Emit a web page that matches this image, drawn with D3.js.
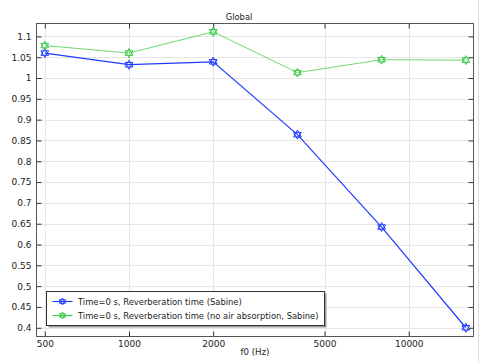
<!DOCTYPE html>
<html>
<head>
<meta charset="utf-8">
<script src="https://cdn.jsdelivr.net/npm/d3@7"></script>
<style>
  body { margin: 0; background: #fff; }
  text { font-family: "DejaVu Sans", sans-serif; fill: #222; }
</style>
</head>
<body>
<script>
// frequencies (Hz) and reverberation times (s)
var freqs = [500, 1000, 2000, 4000, 8000, 16000];
var sabine = [1.060, 1.032, 1.039, 0.864, 0.642, 0.400];
var sabineNoAir = [1.078, 1.060, 1.111, 1.013, 1.044, 1.043];
var xTicks = [500, 1000, 2000, 5000, 10000];
var yTicks = [0.4, 0.45, 0.5, 0.55, 0.6, 0.65, 0.7, 0.75, 0.8, 0.85, 0.9, 0.95, 1, 1.05, 1.1];
var seriesNames = ["Time=0 s, Reverberation time (Sabine)",
                   "Time=0 s, Reverberation time (no air absorption, Sabine)"];
var colors = ["#1f3cff", "#3fc94a"];

var width = 482, height = 363;
var plotL = 36.5, plotR = 473.5, plotT = 23.5, plotB = 336.5;

var svg = d3.select("body").append("svg")
    .attr("width", width)
    .attr("height", height);

var x = d3.scaleLog().domain([467, 17040]).range([plotL, plotR]);
var y = d3.scaleLinear().domain([0.379, 1.131]).range([plotB, plotT]);

// window edge line
svg.append("line")
    .attr("x1", 478.5).attr("x2", 478.5).attr("y1", 0).attr("y2", height)
    .attr("stroke", "#ddd");

// grid
svg.append("g").selectAll("line").data(xTicks).enter().append("line")
    .attr("x1", function(d) { return Math.round(x(d)) + 0.5; })
    .attr("x2", function(d) { return Math.round(x(d)) + 0.5; })
    .attr("y1", plotT).attr("y2", plotB)
    .attr("stroke", "#e6e6e6");
svg.append("g").selectAll("line").data(yTicks).enter().append("line")
    .attr("y1", function(d) { return Math.round(y(d)) + 0.5; })
    .attr("y2", function(d) { return Math.round(y(d)) + 0.5; })
    .attr("x1", plotL).attr("x2", plotR)
    .attr("stroke", "#e6e6e6");

// axes, ticks pointing inward
var fmt = function(d) { return String(d); };
svg.append("g").attr("transform", "translate(0," + plotB + ")")
    .call(d3.axisBottom(x).tickValues(xTicks).tickFormat(fmt).tickSizeInner(-5).tickSizeOuter(0).tickPadding(4))
    .call(function(g) { g.select(".domain").remove(); });
svg.append("g").attr("transform", "translate(0," + plotT + ")")
    .call(d3.axisTop(x).tickValues(xTicks).tickFormat("").tickSizeInner(-5).tickSizeOuter(0))
    .call(function(g) { g.select(".domain").remove(); });
svg.append("g").attr("transform", "translate(" + plotL + ",0)")
    .call(d3.axisLeft(y).tickValues(yTicks).tickFormat(fmt).tickSizeInner(-5).tickSizeOuter(0).tickPadding(5))
    .call(function(g) { g.select(".domain").remove(); });
svg.append("g").attr("transform", "translate(" + plotR + ",0)")
    .call(d3.axisRight(y).tickValues(yTicks).tickFormat("").tickSizeInner(-5).tickSizeOuter(0))
    .call(function(g) { g.select(".domain").remove(); });
svg.selectAll(".tick line").attr("stroke", "#333");
svg.selectAll(".tick text").style("font-size", "9px").attr("fill", "#222")
    .style("font-family", "DejaVu Sans, sans-serif");

svg.append("rect")
    .attr("x", plotL).attr("y", plotT)
    .attr("width", plotR - plotL).attr("height", plotB - plotT)
    .attr("fill", "none").attr("stroke", "#555");

// hexagram marker
var star = function(cx, cy, r) {
    var tri = function(off) {
        return d3.range(3).map(function(i) {
            var a = off + i * 2 * Math.PI / 3;
            return [cx + r * Math.sin(a), cy - r * Math.cos(a)];
        });
    };
    var l = d3.line();
    return l(tri(0)) + "Z" + l(tri(Math.PI)) + "Z";
};

var line = d3.line()
    .x(function(d) { return x(d[0]); })
    .y(function(d) { return y(d[1]); });

[sabine, sabineNoAir].forEach(function(vals, i) {
    var pts = freqs.map(function(f, j) { return [f, vals[j]]; });
    svg.append("path").datum(pts)
        .attr("d", line)
        .attr("fill", "none")
        .attr("stroke", colors[i])
        .attr("stroke-width", i === 0 ? 1.2 : 1)
        .attr("opacity", i === 0 ? 1 : 0.75);
    svg.append("g").selectAll("path").data(pts).enter().append("path")
        .attr("d", function(d) { return star(x(d[0]), y(d[1]), 4.5); })
        .attr("fill", "none")
        .attr("stroke", colors[i])
        .attr("stroke-width", 1);
});

// title and axis label
svg.append("text").attr("x", 239).attr("y", 19.5)
    .attr("text-anchor", "middle").style("font-size", "8.4px").text("Global");
svg.append("text").attr("x", (plotL + plotR) / 2).attr("y", 355)
    .attr("text-anchor", "middle").style("font-size", "8.6px").text("f0 (Hz)");

// legend
var lg = svg.append("g").attr("transform", "translate(46.5,291.5)");
lg.append("rect").attr("x", 2).attr("y", 2).attr("width", 278).attr("height", 34)
    .attr("fill", "#999");
lg.append("rect").attr("width", 278).attr("height", 34)
    .attr("fill", "#fff").attr("stroke", "#333");
seriesNames.forEach(function(name, i) {
    var yy = 10 + i * 14;
    lg.append("line").attr("x1", 6).attr("x2", 26).attr("y1", yy).attr("y2", yy)
        .attr("stroke", colors[i]).attr("stroke-width", 1.2);
    lg.append("path").attr("d", star(16, yy, 3.5))
        .attr("fill", "none").attr("stroke", colors[i]);
    lg.append("text").attr("x", 31.5).attr("y", yy + 3)
        .style("font-size", "8.4px").text(name);
});
</script>
</body>
</html>
